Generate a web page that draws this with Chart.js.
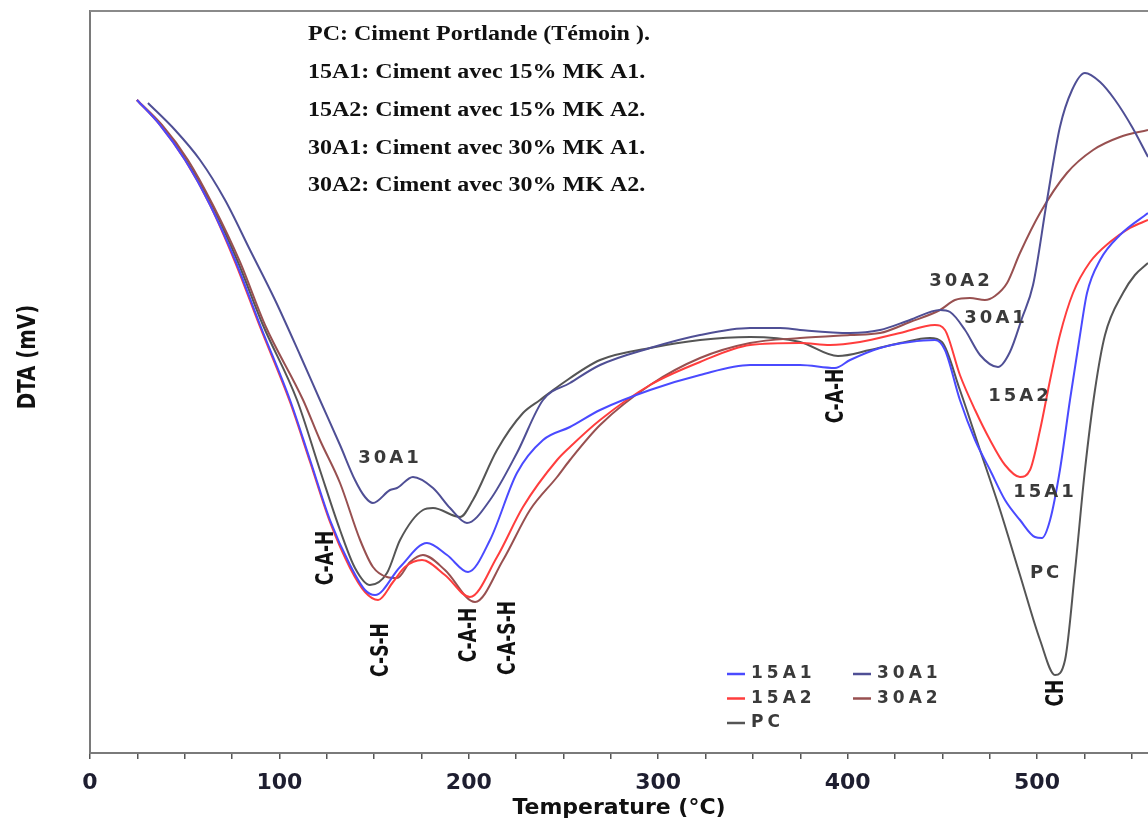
<!DOCTYPE html>
<html>
<head>
<meta charset="utf-8">
<script src="https://cdn.jsdelivr.net/npm/chart.js@4.4.1/dist/chart.umd.min.js"></script>
<style>
  html, body { margin: 0; padding: 0; background: #fff; }
  #wrap { width: 1148px; height: 825px; }
</style>
</head>
<body>
<div id="wrap"><canvas id="grafDTA" width="1148" height="825"></canvas></div>
<script>
// Courbes DTA : T en °C, DTA en unités relatives
const t15A1 = [24.8, 37.0, 50.2, 63.4, 76.6, 89.8, 105.6, 116.2, 126.7, 137.3, 145.2, 150.5, 163.7, 177.9, 188.5, 199.6, 211.2, 225.4, 239.2, 253.4, 269.3, 295.7, 322.1, 348.5, 374.9, 393.3, 401.3, 417.1, 432.9, 446.1, 451.4, 459.3, 467.3, 475.2, 483.1, 491.0, 498.9, 502.6, 506.9, 512.1, 517.4, 522.7, 526.4, 533.3, 543.8, 558.6];
const v15A1 = [65.3, 62.8, 59.3, 54.8, 49.3, 42.8, 35.3, 29.3, 23.3, 18.8, 16.3, 15.8, 18.6, 21.0, 19.8, 18.1, 21.3, 28.0, 31.3, 32.6, 34.3, 36.3, 37.8, 38.8, 38.8, 38.5, 39.3, 40.5, 41.1, 41.3, 40.3, 35.3, 31.3, 28.3, 25.3, 23.3, 21.6, 21.5, 23.3, 28.3, 35.3, 41.8, 46.0, 49.3, 51.8, 54.0];

const t15A2 = [24.8, 37.0, 50.2, 63.4, 76.6, 89.8, 105.6, 116.2, 126.7, 137.3, 145.2, 152.1, 160.0, 166.3, 175.3, 187.4, 200.6, 214.9, 228.6, 246.6, 253.4, 269.3, 295.7, 322.1, 348.5, 374.9, 390.7, 406.5, 427.7, 446.1, 451.4, 459.3, 467.3, 475.2, 483.1, 491.0, 496.3, 501.6, 506.9, 512.1, 519.0, 528.0, 538.5, 549.1, 558.6];
const v15A2 = [65.3, 62.8, 59.3, 54.8, 49.1, 42.6, 35.1, 29.1, 23.1, 18.5, 16.1, 15.3, 17.1, 18.6, 19.3, 17.8, 15.6, 19.6, 24.6, 29.3, 30.6, 33.3, 36.8, 39.1, 40.8, 41.0, 40.8, 41.1, 42.0, 42.8, 42.3, 37.8, 34.3, 31.3, 28.8, 27.6, 28.3, 32.3, 37.3, 41.8, 46.0, 49.1, 51.1, 52.5, 53.3];

const t30A1 = [30.6, 44.9, 58.1, 71.3, 84.5, 97.7, 110.9, 121.4, 132.0, 139.9, 145.2, 149.4, 158.4, 162.1, 170.5, 181.1, 190.1, 199.0, 211.2, 225.4, 239.2, 253.4, 269.3, 295.7, 322.1, 348.5, 364.3, 374.9, 401.3, 417.1, 432.9, 448.8, 454.1, 462.0, 469.9, 479.4, 485.7, 492.1, 497.9, 505.3, 512.1, 518.5, 525.3, 533.3, 541.2, 550.2, 558.6];
const v30A1 = [65.0, 62.3, 59.3, 55.3, 50.3, 45.3, 39.8, 35.3, 30.8, 27.3, 25.6, 25.0, 26.3, 26.5, 27.6, 26.5, 24.5, 23.0, 25.3, 30.0, 35.3, 37.0, 38.8, 40.5, 41.8, 42.5, 42.5, 42.3, 42.0, 42.3, 43.3, 44.3, 44.1, 42.3, 39.8, 38.6, 40.1, 43.5, 46.8, 55.3, 62.6, 66.3, 68.0, 67.1, 65.3, 62.6, 59.6];

const t30A2 = [24.8, 38.0, 51.7, 64.9, 79.2, 92.4, 112.5, 121.4, 132.0, 142.6, 149.4, 156.8, 162.1, 169.0, 175.8, 187.4, 203.3, 218.1, 232.3, 246.6, 253.4, 269.3, 295.7, 322.1, 348.5, 374.9, 401.3, 417.1, 432.9, 448.8, 456.7, 464.6, 472.5, 477.8, 484.2, 491.0, 501.6, 515.8, 529.6, 543.8, 558.6];
const v30A2 = [65.3, 62.8, 59.3, 54.8, 49.1, 42.8, 35.3, 31.3, 27.0, 21.3, 18.6, 17.6, 17.5, 19.1, 19.8, 18.3, 15.1, 19.3, 24.3, 27.6, 29.3, 32.8, 36.8, 39.5, 41.0, 41.5, 41.8, 42.0, 43.1, 44.3, 45.3, 45.5, 45.3, 45.7, 47.0, 50.0, 54.0, 58.0, 60.3, 61.6, 62.3];

const tPC = [24.8, 37.5, 50.7, 64.4, 78.1, 91.3, 109.3, 121.4, 132.0, 139.9, 147.8, 156.8, 163.7, 175.8, 181.1, 195.4, 202.2, 214.9, 228.6, 237.6, 248.2, 269.3, 295.7, 322.1, 348.5, 374.9, 394.9, 411.8, 427.7, 443.5, 449.8, 459.3, 469.9, 480.5, 491.0, 501.6, 509.5, 514.8, 520.1, 525.3, 530.6, 535.9, 545.4, 551.7, 558.6];
const vPC = [65.3, 62.8, 59.3, 54.8, 49.1, 42.8, 35.3, 28.3, 22.3, 18.5, 16.8, 18.0, 21.3, 24.3, 24.5, 23.6, 25.3, 30.3, 34.0, 35.3, 36.8, 39.3, 40.5, 41.3, 41.6, 41.1, 39.7, 40.3, 41.0, 41.5, 41.1, 36.3, 30.3, 24.3, 17.8, 11.3, 7.8, 9.3, 18.3, 28.3, 36.3, 41.8, 46.0, 47.8, 49.0];

const lignesTexte = [
    'PC: Ciment Portlande (Témoin ).',
    '15A1: Ciment avec 15% MK A1.',
    '15A2: Ciment avec 15% MK A2.',
    '30A1: Ciment avec 30% MK A1.',
    '30A2: Ciment avec 30% MK A2.'
];

// étiquettes posées sur les courbes [texte, T, DTA]
const etiquettesCourbes = [
    ['30A1', 158.4, 29.5], ['30A2', 459.9, 47.2], ['30A1', 478.4, 43.5],
    ['15A2', 491.0, 35.7], ['15A1', 504.2, 26.1], ['PC', 504.8, 18.0]
];
// phases (texte vertical)
const etiquettesPhases = [
    ['C-A-H', 124.6, 19.5], ['C-S-H', 153.6, 10.3], ['C-A-H', 200.1, 11.8],
    ['C-A-S-H', 220.7, 11.5], ['C-A-H', 393.9, 35.7], ['CH', 510.0, 6.0]
];

const series = [
    { nom: '15A1', t: t15A1, v: v15A1, couleur: '#4a4aff' },
    { nom: '15A2', t: t15A2, v: v15A2, couleur: '#ff3d3d' },
    { nom: '30A1', t: t30A1, v: v30A1, couleur: '#4f4f95' },
    { nom: '30A2', t: t30A2, v: v30A2, couleur: '#985050' },
    { nom: 'PC', t: tPC, v: vPC, couleur: '#555555' }
];
// ordre de la légende (2 colonnes)
const ordreLegende = ['15A1', '30A1', '15A2', '30A2', 'PC'];

const POLICE_ETROITE = '"Liberation Sans Narrow", "DejaVu Sans Condensed", "Liberation Sans", sans-serif';

function texteVertical(ctx, txt, px, py, taille, etirement) {
    ctx.save();
    ctx.translate(px, py);
    ctx.rotate(-Math.PI / 2);
    ctx.scale(1, etirement);
    ctx.font = 'bold ' + taille + 'px ' + POLICE_ETROITE;
    ctx.textAlign = 'center';
    ctx.textBaseline = 'middle';
    ctx.fillText(txt, 0, 0);
    ctx.restore();
}

const decor = {
    id: 'decor',
    afterDraw(chart) {
        const { ctx, chartArea: ca, scales: { x, y } } = chart;
        ctx.save();

        // cadre du haut
        ctx.strokeStyle = '#8a8a8a';
        ctx.lineWidth = 2;
        ctx.beginPath();
        ctx.moveTo(ca.left, ca.top);
        ctx.lineTo(ca.right, ca.top);
        ctx.stroke();

        // bloc de texte
        ctx.fillStyle = '#111';
        ctx.textBaseline = 'middle';
        ctx.textAlign = 'left';
        lignesTexte.forEach((l, i) => {
            ctx.save();
            ctx.translate(ca.left + 218, ca.top + 24 + i * 37.8);
            ctx.scale(1.2, 1);
            ctx.font = 'bold 20px "Liberation Serif", "DejaVu Serif", serif';
            ctx.fillText(l, 0, 0);
            ctx.restore();
        });

        // titre axe Y
        ctx.fillStyle = '#111';
        texteVertical(ctx, 'DTA (mV)', 28, (ca.top + ca.bottom) / 2 - 25, 22, 1.15);

        // étiquettes des courbes
        ctx.fillStyle = '#3a3a3a';
        ctx.font = 'bold 18px "DejaVu Sans", sans-serif';
        ctx.letterSpacing = '3px';
        ctx.textAlign = 'center';
        ctx.textBaseline = 'middle';
        etiquettesCourbes.forEach(([txt, t, v]) => {
            ctx.fillText(txt, x.getPixelForValue(t), y.getPixelForValue(v));
        });
        ctx.letterSpacing = '0px';

        // phases
        ctx.fillStyle = '#111';
        etiquettesPhases.forEach(([txt, t, v]) => {
            texteVertical(ctx, txt, x.getPixelForValue(t), y.getPixelForValue(v), 19, 1.35);
        });

        // légende
        ctx.font = 'bold 17px "DejaVu Sans", sans-serif';
        ctx.letterSpacing = '4px';
        ctx.textAlign = 'left';
        ordreLegende.forEach((nom, i) => {
            const s = series.find(d => d.nom === nom);
            const lx = ca.left + 637 + (i % 2) * 126;
            const ly = ca.top + 663 + Math.floor(i / 2) * 24.5;
            ctx.strokeStyle = s.couleur;
            ctx.lineWidth = 2.5;
            ctx.beginPath();
            ctx.moveTo(lx, ly);
            ctx.lineTo(lx + 18, ly);
            ctx.stroke();
            ctx.fillStyle = '#3a3a3a';
            ctx.fillText(nom, lx + 24, ly);
        });
        ctx.letterSpacing = '0px';
        ctx.restore();
    }
};

const ctx = document.getElementById('grafDTA').getContext('2d');
new Chart(ctx, {
    type: 'line',
    data: {
        datasets: series.map(s => ({
            label: s.nom,
            data: s.t.map((t, i) => ({ x: t, y: s.v[i] })),
            borderColor: s.couleur,
            borderWidth: 2,
            pointRadius: 0,
            fill: false,
            cubicInterpolationMode: 'monotone'
        }))
    },
    options: {
        responsive: false,
        animation: false,
        layout: { padding: { top: 11, right: 0, left: 0, bottom: 0 } },
        plugins: { legend: { display: false }, tooltip: { enabled: false } },
        scales: {
            x: {
                type: 'linear',
                min: 0,
                max: 558.6,
                afterFit: s => { s.height = 72; },
                border: { display: true, color: '#7a7a7a', width: 2 },
                grid: { display: true, drawOnChartArea: false, drawTicks: true, tickLength: 6, color: '#555', lineWidth: 1.5 },
                ticks: {
                    stepSize: 25,
                    includeBounds: false,
                    autoSkip: false,
                    maxRotation: 0,
                    padding: 11,
                    color: '#1e1e30',
                    font: { family: '"DejaVu Sans", sans-serif', size: 22, weight: 'bold' },
                    callback: v => (v % 100 === 0 ? String(v) : '')
                },
                title: {
                    display: true,
                    text: 'Temperature (°C)',
                    color: '#111',
                    font: { family: '"DejaVu Sans", sans-serif', size: 22, weight: 'bold' },
                    padding: { top: 0, bottom: 4 }
                }
            },
            y: {
                min: 0,
                max: 74.2,
                afterFit: s => { s.width = 90; },
                border: { display: true, color: '#7a7a7a', width: 2 },
                grid: { display: false },
                ticks: { display: false }
            }
        }
    },
    plugins: [decor]
});
</script>
</body>
</html>
